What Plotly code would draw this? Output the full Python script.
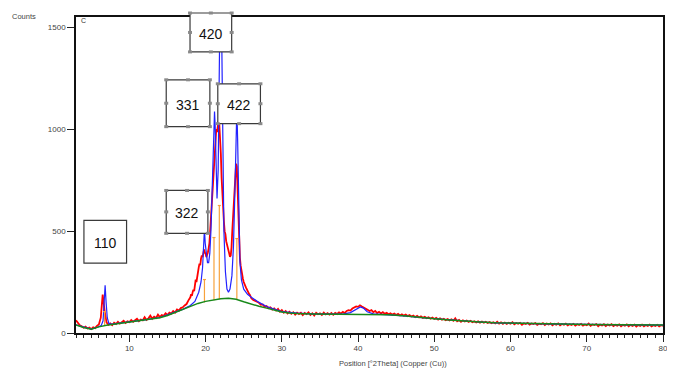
import numpy as np
import plotly.graph_objects as go

# ---------------- data ----------------
# observed scan (red), counts; three segments on regular 2theta grids
obs_a_start, obs_a_step = 3.0, 0.25
obs_a = [62, 48, 38, 33, 26, 31, 22, 27, 19, 28,
         24, 35, 42, 75, 188, 110, 52, 40, 47, 38,
         50, 44, 55, 46, 52, 60, 49, 57, 53, 64,
         55, 61, 70, 58, 66, 62, 78, 64, 72, 85,
         70, 80, 74, 90, 78, 88, 84, 96, 88, 100,
         95, 108, 100, 115, 110, 122, 126, 135, 142, 160]
obs_b_start, obs_b_step = 18.0, 0.1
obs_b = [175, 190, 182, 200, 212, 205, 235, 262, 250, 285,
         300, 322, 340, 332, 365, 380, 372, 398, 410, 395,
         388, 372, 380, 395, 415, 440, 500, 560, 620, 700,
         780, 840, 905, 935, 1000, 985, 1035, 1040, 1020, 960,
         880, 760, 660, 580, 548, 498, 485, 450, 432, 418,
         402, 383, 374, 380, 420, 500, 580, 660, 740, 800,
         830, 815, 700, 560, 440, 370, 330, 300, 282, 265,
         250, 238, 228, 222, 215, 205, 200, 192, 188, 180]
obs_c_start, obs_c_step = 26.0, 0.25
obs_c = [170, 162, 158, 150, 148, 138, 140, 128,
         132, 122, 126, 115, 121, 110, 118, 104,
         112, 100, 108, 96, 104, 94, 102, 90,
         100, 93, 99, 88, 98, 92, 101, 89,
         97, 86, 99, 92, 96, 88, 100, 91,
         97, 90, 98, 89, 99, 93, 101, 95,
         104, 98, 108, 112, 110, 120, 124, 130,
         128, 136, 130, 126, 118, 114, 108, 112,
         102, 108, 98, 104, 96, 102, 94, 99,
         92, 97, 90, 95, 88, 94, 86, 92,
         85, 90, 83, 88, 81, 86, 78, 84,
         76, 82, 74, 79, 73, 77, 70, 76,
         69, 74, 66, 72, 65, 70, 63, 68,
         62, 67, 60, 72, 58, 64, 55, 62,
         56, 61, 54, 60, 53, 58, 52, 57,
         51, 56, 50, 55, 49, 54, 48, 53,
         47, 55, 46, 52, 45, 51, 44, 50,
         46, 53, 43, 49, 45, 50, 40, 48,
         44, 50, 41, 47, 44, 49, 40, 46,
         43, 48, 39, 46, 42, 47, 38, 45,
         41, 47, 38, 44, 40, 46, 37, 43,
         39, 45, 36, 43, 39, 45, 36, 42,
         38, 46, 35, 42, 39, 44, 33, 41,
         37, 43, 34, 41, 37, 43, 34, 40,
         36, 42, 33, 40, 36, 42, 33, 40,
         35, 41, 32, 39, 35, 41, 33, 39,
         35, 41, 32, 38, 34, 40, 32, 38,
         35]

# calculated profile (blue)
calc_x = [3.0, 4.0, 5.0, 5.8, 6.3, 6.55, 6.7, 6.82, 6.95, 7.1,
          7.3, 7.6, 8.0, 10.0, 12.0, 14.0, 16.0, 17.0, 18.0, 18.6,
          19.1, 19.4, 19.6, 19.75, 19.85, 19.95, 20.1, 20.25, 20.4, 20.55,
          20.7, 20.85, 21.0, 21.1, 21.17, 21.25, 21.35, 21.5, 21.65, 21.8,
          21.95, 22.1, 22.25, 22.4, 22.6, 22.8, 23.0, 23.2, 23.45, 23.65,
          23.85, 24.0, 24.1, 24.2, 24.35, 24.5, 24.7, 25.0, 25.5, 26.0,
          27.0, 28.0, 30.0, 32.0, 34.0, 36.0, 38.0, 39.0, 39.6, 40.0,
          40.3, 40.7, 41.2, 42.0, 44.0, 46.0, 48.0, 50.0, 52.0, 54.0,
          56.0, 58.0, 60.0, 65.0, 70.0, 75.0, 80.0]
calc_y = [40, 28, 19, 28, 36, 60, 140, 234, 150, 75,
          48, 44, 45, 54, 64, 76, 102, 116, 135, 155,
          200, 250, 320, 420, 510, 440, 370, 345, 345, 390,
          500, 700, 950, 1060, 1086, 1020, 850, 660, 800, 1300,
          1800, 1500, 900, 500, 300, 215, 200, 215, 280, 420,
          700, 980, 1100, 950, 560, 350, 260, 215, 190, 175,
          150, 130, 105, 97, 94, 93, 93, 100, 112, 124,
          128, 122, 104, 94, 90, 84, 76, 70, 64, 58,
          54, 50, 48, 45, 42, 40, 39]

# background (green)
bg_x = [3, 4, 5, 6, 7, 8, 9, 10, 11, 12, 13, 14, 15, 16, 17, 18, 19, 20,
        21, 22, 23, 24, 25, 26, 27, 28, 29, 30, 31, 32, 34, 36, 38, 40,
        42, 44, 46, 48, 50, 52, 54, 56, 58, 60, 65, 70, 75, 80]
bg_y = [40, 27, 18, 30, 38, 43, 48, 53, 58, 64, 69, 75, 86, 101, 115, 130, 145, 155,
        163, 168, 170, 165, 153, 141, 131, 122, 112, 103, 98, 95, 93, 92, 92, 93,
        92, 90, 84, 76, 70, 64, 58, 54, 50, 48, 45, 42, 40, 39]

# reference peak sticks (orange)
stick_pos = [6.75, 19.85, 21.1, 21.8, 24.1]
stick_base = [36, 150, 160, 165, 163]
stick_top = [105, 262, 468, 625, 463]

peak_labels = ["110", "322", "331", "420", "422"]
x_ticks = [10, 20, 30, 40, 50, 60, 70, 80]
y_ticks = [0, 500, 1000, 1500]

# ---------------- build ----------------
x_obs = np.concatenate([
    obs_a_start + obs_a_step * np.arange(len(obs_a)),
    obs_b_start + obs_b_step * np.arange(len(obs_b)),
    obs_c_start + obs_c_step * np.arange(len(obs_c)),
])
y_obs = np.array(obs_a + obs_b + obs_c, dtype=float)

sx, sy, dx, dy = [], [], [], []
for p, b, t in zip(stick_pos, stick_base, stick_top):
    sx += [p, p, None]
    sy += [b, t, None]
    dx += [p - 0.2, p + 0.2, None]
    dy += [t, t, None]

fig = go.Figure()
fig.add_trace(go.Scatter(x=x_obs, y=y_obs, mode="lines",
                         line=dict(color="#ff0000", width=1.8), showlegend=False))
fig.add_trace(go.Scatter(x=calc_x, y=calc_y, mode="lines",
                         line=dict(color="#2222ff", width=1.2), showlegend=False))
fig.add_trace(go.Scatter(x=sx, y=sy, mode="lines",
                         line=dict(color="#f7a23c", width=1.2), showlegend=False))
fig.add_trace(go.Scatter(x=dx, y=dy, mode="lines",
                         line=dict(color="#f7a23c", width=1.2), showlegend=False))
fig.add_trace(go.Scatter(x=bg_x, y=bg_y, mode="lines",
                         line=dict(color="#18891a", width=1.5), showlegend=False))

# the page body has an 8px margin; figure is sized so the plot lands where the reference has it
OFF = 8
FIG_W, FIG_H = 675 - OFF, 374 - OFF
# plot-area frame in window pixels, used to place the label boxes
L, R, T, B = 76, 668, 16, 333


def px_x(px):
    return (px - L) / (R - L)


def px_y(py):
    return (B - py) / (B - T)


# label boxes in window pixels: (x0, x1, y0_top, y1_bottom, has_handles)
boxes = {
    "110": (84, 127, 220, 263, False),
    "322": (167, 209, 190, 233, True),
    "331": (167, 211, 79, 126, True),
    "420": (191, 233, 12, 51, True),
    "422": (219, 262, 83, 123, True),
}

shapes = []
annotations = []
for lab in peak_labels:
    x0, x1, y0, y1, handles = boxes[lab]
    shapes.append(dict(type="rect", xref="paper", yref="paper",
                       x0=px_x(x0), x1=px_x(x1), y0=px_y(y1), y1=px_y(y0),
                       fillcolor="white", line=dict(color="#3a3a3a", width=1.2),
                       layer="above"))
    if handles:
        xm, ym = (x0 + x1) / 2, (y0 + y1) / 2
        for hx, hy in [(x0, y0), (xm, y0), (x1, y0), (x0, ym), (x1, ym),
                       (x0, y1), (xm, y1), (x1, y1)]:
            shapes.append(dict(type="rect", xref="paper", yref="paper",
                               x0=px_x(hx - 2), x1=px_x(hx + 2),
                               y0=px_y(hy + 1.5), y1=px_y(hy - 1.5),
                               fillcolor="#8a8a8a", line=dict(width=0),
                               layer="above"))
    annotations.append(dict(text=lab, xref="paper", yref="paper",
                            x=px_x((x0 + x1) / 2), y=px_y((y0 + y1) / 2 + 1.5),
                            xanchor="center", yanchor="middle", showarrow=False,
                            font=dict(family="Liberation Sans Narrow, Liberation Sans, sans-serif",
                                      size=14, color="#111")))

small = dict(family="Liberation Sans, Arial, sans-serif", size=7.5, color="#444")
annotations += [
    dict(text="Counts", xref="paper", yref="paper", x=px_x(OFF + 1), y=px_y(OFF + 1),
         xanchor="left", yanchor="top", showarrow=False, font=small),
    dict(text="C", xref="paper", yref="paper", x=px_x(79), y=px_y(20),
         xanchor="left", yanchor="middle", showarrow=False,
         font=dict(family="Liberation Sans, Arial, sans-serif", size=7, color="#333")),
    dict(text="Position [°2Theta] (Copper (Cu))", xref="paper", yref="paper",
         x=px_x(339), y=px_y(364), xanchor="left", yanchor="middle",
         showarrow=False, font=small),
]

tickfont = dict(family="Liberation Sans, Arial, sans-serif", size=8, color="#444")
fig.update_layout(
    width=FIG_W, height=FIG_H, autosize=False,
    margin=dict(l=L - OFF, r=FIG_W - (R - OFF), t=T - OFF, b=FIG_H - (B - OFF), pad=0),
    paper_bgcolor="white", plot_bgcolor="white",
    showlegend=False,
    xaxis=dict(range=[3, 80], tickmode="array", tickvals=x_ticks,
               ticktext=[str(v) for v in x_ticks],
               ticks="outside", ticklen=7, tickwidth=1, tickcolor="#222",
               showline=True, linecolor="#111", linewidth=1.6, mirror=True,
               showgrid=False, zeroline=False, tickfont=tickfont,
               minor=dict(tickmode="linear", tick0=0, dtick=1, ticks="outside",
                          ticklen=3, tickwidth=1, tickcolor="#222", showgrid=False)),
    yaxis=dict(range=[0, 1549], tickmode="array", tickvals=y_ticks,
               ticktext=[str(v) for v in y_ticks],
               ticks="outside", ticklen=7, tickwidth=1, tickcolor="#222",
               showline=True, linecolor="#111", linewidth=1.6, mirror=True,
               showgrid=False, zeroline=False, tickfont=tickfont),
    shapes=shapes,
    annotations=annotations,
)

fig.write_html("out.html")
